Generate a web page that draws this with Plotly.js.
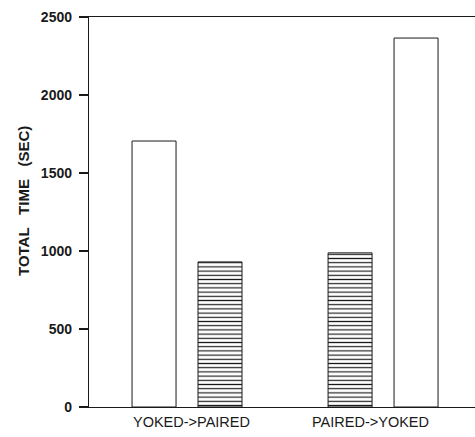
<!DOCTYPE html>
<html>
<head>
<meta charset="utf-8">
<script src="https://cdn.plot.ly/plotly-3.0.1.min.js"></script>
<style>html,body{margin:0;padding:0;background:#fff;}#chart{width:475px;height:437px;}</style>
</head>
<body>
<div id="chart"></div>
<script>
// Data
var categories = ['YOKED->PAIRED', 'PAIRED->YOKED'];
var firstPhaseTime = [1705, 988];
var secondPhaseTime = [930, 2365];
var firstPhaseCondition = ['YOKED', 'PAIRED'];
var secondPhaseCondition = ['PAIRED', 'YOKED'];
var yTickValues = [0, 500, 1000, 1500, 2000, 2500];
var yAxisTitle = 'TOTAL&nbsp;&nbsp; TIME&nbsp;&nbsp; (SEC)';

// Styles
var ink = '#1a1a1a';
var fontFamily = '"Liberation Sans", Arial, Helvetica, sans-serif';
var patternFor = {YOKED: '', PAIRED: '-'};
var labelShift = [4, -13];

function barTrace(values, conditions, name) {
  return {
    type: 'bar',
    name: name,
    x: categories,
    y: values,
    marker: {
      color: 'white',
      line: {color: ink, width: 1},
      pattern: {
        shape: conditions.map(function (c) { return patternFor[c]; }),
        fgcolor: ink,
        bgcolor: 'white',
        size: 4.2,
        solidity: 0.28
      }
    },
    hoverinfo: 'x+y'
  };
}

var data = [
  barTrace(firstPhaseTime, firstPhaseCondition, 'First phase'),
  barTrace(secondPhaseTime, secondPhaseCondition, 'Second phase')
];

var annotations = categories.map(function (c, i) {
  return {
    x: c, xref: 'x', y: 0, yref: 'paper',
    xanchor: 'center', yanchor: 'middle',
    xshift: labelShift[i], yshift: -14.5,
    text: c, showarrow: false,
    font: {family: fontFamily, size: 14.5, color: ink}
  };
});
annotations.push({
  x: 0, xref: 'paper', y: 0.5, yref: 'paper',
  xanchor: 'center', yanchor: 'middle',
  xshift: -66, yshift: 11,
  textangle: -90,
  text: yAxisTitle, showarrow: false,
  font: {family: fontFamily, size: 15, color: ink, weight: 'bold'}
});

var layout = {
  width: 475,
  height: 437,
  margin: {l: 89, r: 0, t: 17, b: 30, pad: 0},
  paper_bgcolor: 'white',
  plot_bgcolor: 'white',
  showlegend: false,
  barmode: 'group',
  bargap: 0.327,
  bargroupgap: 0.333,
  xaxis: {
    type: 'category',
    range: [-0.5, 1.469],
    showline: true,
    mirror: true,
    linecolor: ink,
    linewidth: 1.2,
    ticks: '',
    showticklabels: false,
    showgrid: false,
    zeroline: false,
    fixedrange: true
  },
  yaxis: {
    range: [0, 2500],
    tickvals: yTickValues,
    ticktext: yTickValues.map(String),
    ticks: 'outside',
    ticklen: 9,
    tickwidth: 1.2,
    tickcolor: ink,
    showline: true,
    linecolor: ink,
    linewidth: 1.2,
    showgrid: false,
    zeroline: false,
    ticklabelstandoff: 4,
    tickfont: {family: fontFamily, size: 14, color: ink, weight: 'bold'},
    fixedrange: true
  },
  annotations: annotations
};

Plotly.newPlot('chart', data, layout, {displayModeBar: false, staticPlot: true});
</script>
</body>
</html>
